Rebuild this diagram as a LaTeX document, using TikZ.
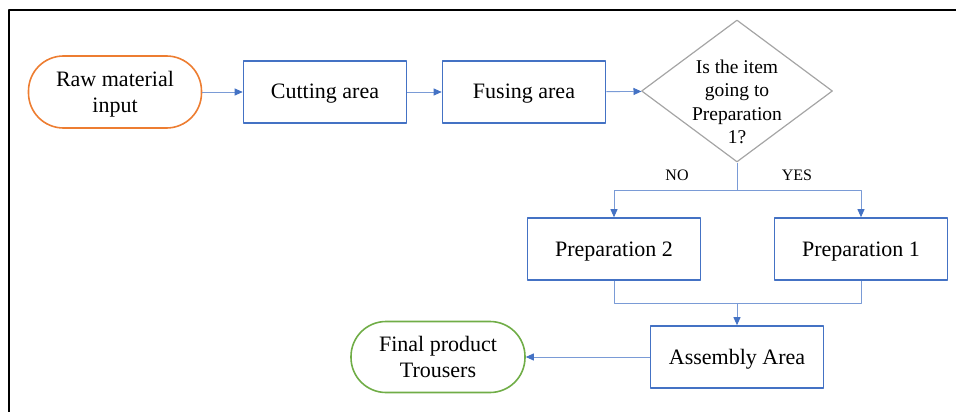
\documentclass[tikz,border=0pt]{standalone}
\usepackage{fontspec}
\setmainfont{Liberation Serif}
\usetikzlibrary{shapes.geometric,arrows.meta}
\definecolor{boxblue}{HTML}{4472C4}
\definecolor{lineblue}{HTML}{7A9BD6}
\definecolor{raworange}{HTML}{ED7D31}
\definecolor{endgreen}{HTML}{70AD47}
\definecolor{decgray}{HTML}{A5A5A5}
\tikzset{
  proc/.style={draw=boxblue, line width=1.6pt, minimum width=163pt, minimum height=62pt,
    inner sep=0pt, text height=14pt, text depth=0pt, font=\fontsize{22}{26}\selectfont},
  term/.style={line width=1.6pt, rounded corners=35pt, minimum width=173pt, minimum height=72pt,
    inner sep=0pt, align=center, text height=40pt, text depth=0pt,
    font=\fontsize{22}{26}\selectfont},
  decision/.style={diamond, draw=decgray, line width=1.2pt, minimum width=191pt,
    minimum height=142pt, inner sep=0pt},
  link/.style={draw=lineblue, line width=0.9pt},
  conn/.style={link, -{Triangle[length=8pt,width=7pt,color=boxblue]}},
  tag/.style={font=\fontsize{16}{19}\selectfont}
}
\begin{document}
\begin{tikzpicture}[x=1pt, y=-1pt, line join=round]
\useasboundingbox (0,0) rectangle (956,412);
\draw[line width=2pt] (9,412) -- (9,10) -- (956,10);
% top row
\node[term, draw=raworange] (raw) at (115,92) {Raw material\\input};
\node[proc] (cut) at (325,92) {Cutting area};
\node[proc] (fuse) at (524,92) {Fusing area};
\node[decision] (dec) at (737,91) {};
\node[align=center, font=\fontsize{19.5}{23.5}\selectfont] (dectext) at (737,102)
  {Is the item\\going to\\Preparation\\1?};
% branches
\coordinate (split) at (737,190);
\node[tag] (no) at (677,175) {NO};
\node[tag] (yes) at (797,175) {YES};
\node[proc, minimum width=173pt] (prep2) at (614,249) {Preparation 2};
\node[proc, minimum width=173pt] (prep1) at (861,249) {Preparation 1};
\coordinate (merge) at (737,303);
% bottom row
\node[proc, minimum width=173pt] (asm) at (737,357) {Assembly Area};
\node[term, draw=endgreen, minimum width=174pt, minimum height=71pt] (final) at (438,357)
  {Final product\\Trousers};
\draw[conn] (raw) -- (cut);
\draw[conn] (cut) -- (fuse);
\draw[conn] (fuse) -- (dec);
\draw[link] (dec.south) -- (split);
\draw[conn] (split) -| (prep2.north);
\draw[conn] (split) -| (prep1.north);
\draw[link] (prep2.south) |- (merge);
\draw[link] (prep1.south) |- (merge);
\draw[conn] (merge) -- (asm.north);
\draw[conn] (asm) -- (final);
\end{tikzpicture}
\end{document}
